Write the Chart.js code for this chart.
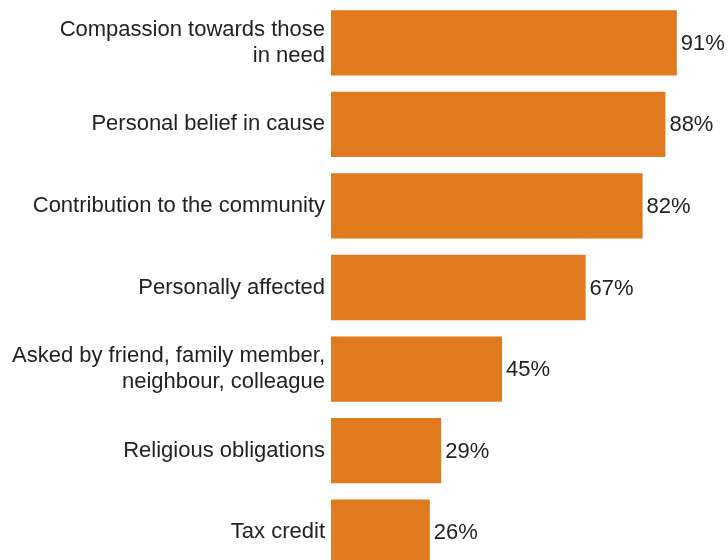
<!DOCTYPE html>
<html>
<head>
<meta charset="utf-8">
<script src="https://cdn.jsdelivr.net/npm/chart.js@4/dist/chart.umd.min.js"></script>
<style>
html,body{margin:0;padding:0;background:#fff;overflow:hidden;}
canvas{display:block;}
</style>
</head>
<body>
<canvas id="c" width="728" height="573"></canvas>
<script>
const categories = [
  ["Compassion towards those", "in need"],
  "Personal belief in cause",
  "Contribution to the community",
  "Personally affected",
  ["Asked by friend, family member,", "neighbour, colleague"],
  "Religious obligations",
  "Tax credit"
];
const values = [91, 88, 82, 67, 45, 29, 26];

const FONT = "'Liberation Sans', Arial, sans-serif";
const TEXT = "#222222";

const valueLabels = {
  id: 'valueLabels',
  afterDatasetsDraw(chart) {
    const ctx = chart.ctx;
    const meta = chart.getDatasetMeta(0);
    ctx.save();
    ctx.font = "22px " + FONT;
    ctx.fillStyle = TEXT;
    ctx.textAlign = 'left';
    ctx.textBaseline = 'middle';
    meta.data.forEach((bar, i) => {
      ctx.fillText(values[i] + '%', bar.x + 4, bar.y + 1);
    });
    ctx.restore();
  }
};

new Chart(document.getElementById('c'), {
  type: 'bar',
  data: {
    labels: categories,
    datasets: [{
      data: values,
      backgroundColor: '#E07A1F',
      borderWidth: 0,
      barPercentage: 0.8,
      categoryPercentage: 1.0
    }]
  },
  options: {
    indexAxis: 'y',
    responsive: false,
    animation: false,
    devicePixelRatio: 1,
    layout: { padding: { top: 2, right: 17, bottom: 0, left: 0 } },
    plugins: { legend: { display: false }, tooltip: { enabled: false } },
    scales: {
      x: { display: false, min: 0, max: 100 },
      y: {
        border: { display: false },
        grid: { display: false, drawTicks: false },
        ticks: {
          color: TEXT,
          padding: 6,
          font: { family: FONT, size: 22, lineHeight: 1.18 }
        },
        afterFit(scale) { scale.width = 331; scale.paddingTop = 0; scale.paddingBottom = 0; }
      }
    }
  },
  plugins: [valueLabels]
});
</script>
</body>
</html>
